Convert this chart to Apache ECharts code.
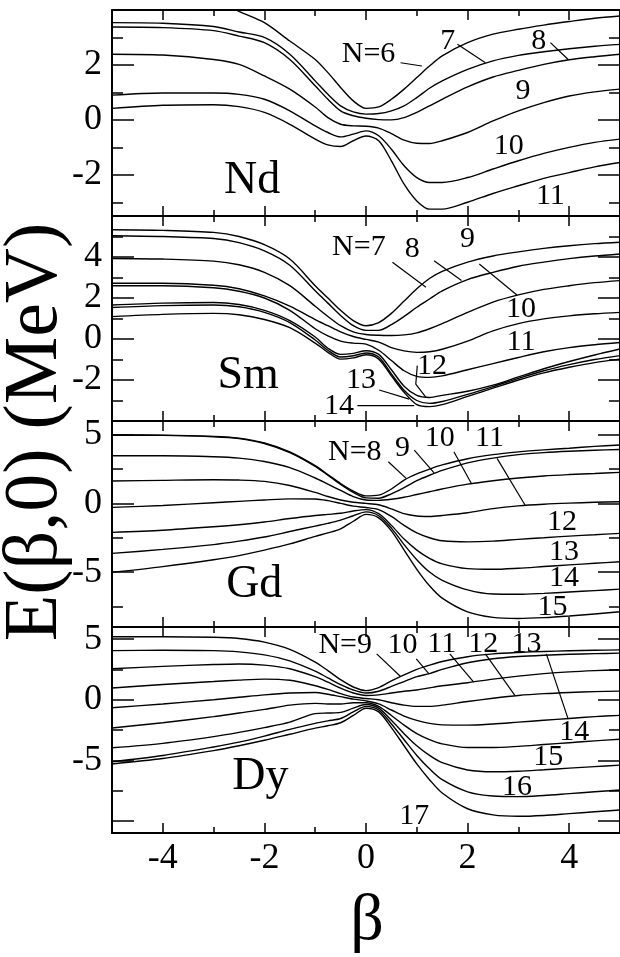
<!DOCTYPE html>
<html>
<head>
<meta charset="utf-8">
<script src="https://cdn.jsdelivr.net/npm/echarts@6/dist/echarts.min.js"></script>
<style>
  html, body { margin: 0; padding: 0; background: #fff; }
  #main { width: 620px; height: 957px; }
</style>
</head>
<body>
<div id="main"></div>
<script>
// deformation grid shared by every curve
var beta = [-5, -4, -3, -2.5, -2, -1.5, -1, -0.75, -0.5, -0.25, 0, 0.25, 0.5, 0.75, 1, 1.25, 1.5, 2, 2.5, 3, 3.5, 4, 4.5, 5];

// Nd, N = 6..11
var ndCurves = [
  [5.0, 4.9, 4.4, 3.95, 3.54, 2.87, 2.2, 1.72, 1.18, 0.69, 0.42, 0.47, 0.75, 1.12, 1.54, 1.96, 2.33, 2.81, 3.12, 3.3, 3.45, 3.58, 3.7, 3.78],
  [3.54, 3.52, 3.4, 3.2, 3.0, 2.39, 1.42, 0.93, 0.51, 0.29, 0.21, 0.23, 0.33, 0.51, 0.81, 1.15, 1.42, 1.84, 2.15, 2.35, 2.48, 2.59, 2.68, 2.75],
  [3.38, 3.36, 3.25, 3.05, 2.81, 2.2, 1.24, 0.75, 0.33, 0.15, 0.06, 0.01, 0.0, 0.08, 0.27, 0.51, 0.75, 1.2, 1.56, 1.8, 2.02, 2.19, 2.3, 2.39],
  [2.39, 2.36, 2.2, 2.02, 1.6, 1.12, 0.47, 0.08, -0.16, -0.22, -0.23, -0.3, -0.5, -0.74, -0.85, -0.86, -0.76, -0.46, -0.04, 0.33, 0.63, 0.87, 1.02, 1.12],
  [0.9, 0.98, 0.98, 0.93, 0.75, 0.33, -0.22, -0.46, -0.62, -0.52, -0.4, -0.58, -1.07, -1.67, -2.1, -2.28, -2.28, -2.1, -1.79, -1.49, -1.22, -1.0, -0.82, -0.7],
  [0.42, 0.53, 0.55, 0.48, 0.27, -0.16, -0.7, -0.91, -0.97, -0.76, -0.59, -0.76, -1.49, -2.34, -2.95, -3.25, -3.25, -3.0, -2.68, -2.4, -2.13, -1.92, -1.71, -1.55]
];
// Sm, N = 7..14
var smCurves = [
  [5.33, 5.3, 5.2, 5.0, 4.6, 3.9, 2.6, 2.0, 1.4, 0.9, 0.65, 0.8, 1.25, 1.85, 2.45, 2.95, 3.3, 3.75, 4.05, 4.25, 4.42, 4.55, 4.65, 4.72],
  [5.04, 5.0, 4.9, 4.7, 4.3, 3.6, 2.35, 1.75, 1.15, 0.65, 0.42, 0.42, 0.7, 1.1, 1.55, 1.95, 2.35, 2.9, 3.25, 3.55, 3.75, 3.92, 4.05, 4.15],
  [3.93, 3.9, 3.8, 3.62, 3.25, 2.6, 1.6, 1.1, 0.65, 0.35, 0.22, 0.18, 0.17, 0.2, 0.3, 0.5, 0.75, 1.3, 1.8, 2.15, 2.42, 2.6, 2.75, 2.85],
  [2.72, 2.72, 2.62, 2.45, 2.1, 1.6, 0.95, 0.65, 0.35, 0.12, -0.02, -0.15, -0.42, -0.58, -0.65, -0.62, -0.5, -0.1, 0.4, 0.75, 0.98, 1.13, 1.23, 1.3],
  [2.6, 2.6, 2.5, 2.33, 2.0, 1.4, 0.5, 0.15, -0.1, -0.2, -0.25, -0.55, -1.05, -1.55, -1.82, -1.87, -1.8, -1.5, -1.2, -0.9, -0.62, -0.42, -0.28, -0.17],
  [1.66, 1.75, 1.78, 1.68, 1.4, 0.9, 0.1, -0.45, -0.75, -0.7, -0.57, -0.75, -1.5, -2.3, -2.75, -2.85, -2.75, -2.55, -2.25, -1.85, -1.45, -1.1, -0.78, -0.49],
  [1.54, 1.63, 1.66, 1.57, 1.3, 0.8, -0.05, -0.55, -0.88, -0.82, -0.68, -0.88, -1.7, -2.5, -3.0, -3.14, -3.05, -2.7, -2.32, -1.92, -1.55, -1.25, -1.0, -0.81],
  [1.09, 1.2, 1.25, 1.18, 0.95, 0.55, -0.2, -0.65, -0.98, -0.92, -0.77, -0.98, -1.8, -2.6, -3.2, -3.3, -3.2, -2.8, -2.4, -2.0, -1.65, -1.38, -1.15, -0.98]
];
// Gd, N = 8..15
var gdCurves = [
  [4.98, 4.97, 4.88, 4.75, 4.4, 3.75, 2.75, 2.1, 1.45, 0.9, 0.55, 0.6, 1.05, 1.7, 2.15, 2.5, 2.8, 3.25, 3.55, 3.75, 3.9, 4.02, 4.15, 4.25],
  [4.96, 4.95, 4.85, 4.72, 4.36, 3.7, 2.7, 2.05, 1.38, 0.8, 0.4, 0.38, 0.7, 1.15, 1.65, 2.05, 2.4, 2.95, 3.3, 3.55, 3.7, 3.8, 3.87, 3.93],
  [3.47, 3.47, 3.4, 3.3, 3.05, 2.6, 1.85, 1.4, 0.95, 0.5, 0.25, 0.22, 0.3, 0.45, 0.65, 0.85, 1.05, 1.4, 1.65, 1.85, 2.0, 2.1, 2.18, 2.26],
  [1.63, 1.68, 1.72, 1.7, 1.6, 1.3, 0.8, 0.5, 0.25, 0.08, 0.0, -0.1, -0.4, -0.75, -0.92, -0.95, -0.88, -0.68, -0.38, -0.18, -0.06, 0.02, 0.08, 0.12],
  [-0.29, -0.15, 0.05, 0.15, 0.25, 0.33, 0.32, 0.2, 0.0, -0.2, -0.3, -0.45, -0.95, -1.6, -2.15, -2.5, -2.72, -2.8, -2.75, -2.62, -2.5, -2.38, -2.28, -2.18],
  [-2.11, -1.95, -1.7, -1.55, -1.35, -1.1, -0.88, -0.8, -0.72, -0.55, -0.45, -0.75, -1.6, -2.6, -3.4, -4.0, -4.4, -4.75, -4.8, -4.72, -4.6, -4.48, -4.36, -4.25],
  [-3.64, -3.35, -3.0, -2.75, -2.45, -2.05, -1.65, -1.45, -1.22, -0.9, -0.62, -0.9, -1.8, -3.0, -4.1, -5.0, -5.6, -6.3, -6.6, -6.62, -6.55, -6.45, -6.35, -6.24],
  [-5.02, -4.6, -4.1, -3.8, -3.4, -2.95, -2.4, -2.15, -1.85, -1.3, -0.8, -1.05, -2.0, -3.4, -4.8, -6.0, -6.9, -7.9, -8.3, -8.38, -8.32, -8.2, -8.05, -7.89]
];
// Dy, N = 9..17
var dyCurves = [
  [5.2, 5.2, 5.15, 5.05, 4.75, 4.15, 3.1, 2.4, 1.65, 1.05, 0.75, 1.0, 1.55, 2.05, 2.5, 2.85, 3.15, 3.55, 3.78, 3.9, 3.98, 4.04, 4.08, 4.11],
  [4.05, 4.08, 4.05, 3.95, 3.7, 3.2, 2.35, 1.8, 1.25, 0.8, 0.55, 0.7, 1.1, 1.5, 1.9, 2.15, 2.5, 3.05, 3.38, 3.56, 3.67, 3.75, 3.8, 3.84],
  [2.55, 2.75, 2.9, 2.95, 2.85, 2.55, 1.9, 1.45, 0.95, 0.55, 0.35, 0.4, 0.55, 0.7, 0.8, 0.98, 1.15, 1.4, 1.7, 1.95, 2.15, 2.3, 2.4, 2.47],
  [0.96, 1.25, 1.5, 1.62, 1.7, 1.6, 1.15, 0.85, 0.5, 0.22, 0.1, 0.0, -0.25, -0.45, -0.55, -0.55, -0.45, -0.15, 0.12, 0.35, 0.5, 0.6, 0.67, 0.71],
  [-0.66, -0.35, 0.0, 0.2, 0.4, 0.55, 0.6, 0.45, 0.25, 0.05, -0.1, -0.35, -0.85, -1.35, -1.7, -1.95, -2.08, -2.1, -2.0, -1.85, -1.7, -1.55, -1.4, -1.29],
  [-2.33, -1.9, -1.4, -1.1, -0.8, -0.45, -0.3, -0.35, -0.35, -0.25, -0.25, -0.55, -1.3, -2.1, -2.8, -3.3, -3.65, -3.95, -3.95, -3.85, -3.7, -3.55, -3.4, -3.26],
  [-3.97, -3.6, -3.05, -2.7, -2.3, -1.85, -1.15, -1.1, -1.05, -0.7, -0.4, -0.7, -1.7, -2.8, -3.8, -4.6, -5.2, -5.8, -5.95, -5.9, -5.78, -5.65, -5.52, -5.4],
  [-5.12, -4.6, -3.9, -3.5, -3.0, -2.45, -1.95, -1.75, -1.55, -1.0, -0.55, -0.85, -2.0, -3.3, -4.6, -5.7, -6.6, -7.6, -7.95, -8.0, -7.9, -7.75, -7.6, -7.45],
  [-5.3, -4.85, -4.2, -3.8, -3.35, -2.85, -2.35, -2.15, -1.9, -1.3, -0.7, -1.0, -2.3, -3.8, -5.3, -6.6, -7.7, -9.0, -9.5, -9.62, -9.55, -9.4, -9.25, -9.1]
];

// y ranges and ticks of each panel
var yRanges = [[-3.5, 4], [-4, 6], [-9, 6], [-11, 6]];
var yMajor = [[-2, 0, 2], [-4, -2, 0, 2, 4, 6], [-5, 0, 5], [-10, -5, 0, 5]];
var yMinor = [[-3, -1, 1, 3], [-3, -1, 1, 3, 5], [-7.5, -2.5, 2.5], [-7.5, -2.5, 2.5]];
var yLabels = [[-2, 0, 2], [-2, 0, 2, 4], [-5, 0, 5], [-5, 0, 5]];
var xMajor = [-4, -2, 0, 2, 4];
var xMinor = [-3, -1, 1, 3];

// text tags [beta, E, text]
var names = [[-2.24, -2.22, 'Nd'], [-2.32, -1.79, 'Sm'], [-2.2, -5.95, 'Gd'], [-2.08, -6.36, 'Dy']];
var ndTags = [[0.05, 2.39, 'N=6'], [1.61, 2.87, '7'], [3.4, 2.87, '8'], [3.09, 1.05, '9'], [2.81, -0.95, '10'], [3.63, -2.76, '11']];
var smTags = [[-0.14, 4.47, 'N=7'], [0.91, 4.39, '8'], [2.0, 4.88, '9'], [3.05, 1.46, '10'], [3.05, -0.16, '11'], [1.3, -1.3, '12'], [-0.1, -2.03, '13'], [-0.53, -3.25, '14']];
var gdTags = [[-0.22, 3.76, 'N=8'], [0.72, 4.0, '9'], [1.45, 4.73, '10'], [2.43, 4.73, '11'], [3.86, -1.33, '12'], [3.9, -3.52, '13'], [3.9, -5.46, '14'], [3.67, -7.52, '15']];
var dyTags = [[-0.41, 4.47, 'N=9'], [0.72, 4.47, '10'], [1.49, 4.6, '11'], [2.31, 4.6, '12'], [3.16, 4.6, '13'], [4.1, -2.66, '14'], [3.59, -4.71, '15'], [2.97, -7.18, '16'], [0.95, -9.64, '17']];

// leader lines from tag to curve
var ndLeaders = [[[0.68, 2.08], [1.1, 1.96]], [[1.8, 2.75], [2.35, 2.08]], [[3.63, 2.81], [3.98, 2.2]]];
var smLeaders = [[[0.52, 3.74], [1.18, 2.52]], [[1.34, 3.82], [1.88, 2.85]], [[2.23, 3.66], [2.97, 2.15]],
  [[1.01, -1.3], [0.98, -2.2], [1.18, -2.85]], [[0.26, -2.49], [0.85, -2.93]], [[-0.17, -3.25], [0.95, -3.25]]];
var gdLeaders = [[[0.44, 3.03], [0.79, 1.82]], [[0.95, 3.88], [1.34, 2.23]], [[1.73, 3.76], [2.08, 1.41]], [[2.58, 3.28], [3.13, -0.12]]];
var dyLeaders = [[[0.21, 3.78], [0.68, 1.92]], [[0.99, 3.37], [1.24, 2.14]], [[1.65, 3.78], [2.12, 1.45]],
  [[2.35, 3.78], [2.93, 0.36]], [[3.55, 3.78], [3.98, -1.6]]];

var panels = [
  { curves: ndCurves, tags: ndTags, leaders: ndLeaders },
  { curves: smCurves, tags: smTags, leaders: smLeaders },
  { curves: gdCurves, tags: gdTags, leaders: gdLeaders },
  { curves: dyCurves, tags: dyTags, leaders: dyLeaders }
];

var FONT = 'Liberation Serif';
var tops = [10, 216, 421, 627];
var heights = [206, 205, 206, 206];

var grids = [], xAxes = [], yAxes = [], series = [];

panels.forEach(function (p, g) {
  grids.push({ left: 112, right: 0, top: tops[g], height: heights[g] });
  var last = g === panels.length - 1;
  var line = { show: true, onZero: false, lineStyle: { color: '#000', width: 2 } };
  var noLine = { show: false, onZero: false };
  function xa(pos, vals, len, showLine, labels) {
    xAxes.push({
      type: 'value', gridIndex: g, min: -5, max: 5, position: pos,
      axisLine: showLine ? line : noLine,
      axisTick: { show: true, inside: true, length: len, customValues: vals, lineStyle: { color: '#000', width: 1.5 } },
      axisLabel: labels ? { show: true, customValues: xMajor, fontFamily: FONT, fontSize: 36, color: '#000', margin: 8 } : { show: false },
      splitLine: { show: false }
    });
  }
  function ya(pos, vals, len, showLine, labels) {
    yAxes.push({
      type: 'value', gridIndex: g, min: yRanges[g][0], max: yRanges[g][1], position: pos,
      axisLine: showLine ? line : noLine,
      axisTick: { show: true, inside: true, length: len, customValues: vals, lineStyle: { color: '#000', width: 1.5 } },
      axisLabel: labels ? { show: true, customValues: yLabels[g], fontFamily: FONT, fontSize: 36, color: '#000', margin: 10 } : { show: false },
      splitLine: { show: false }
    });
  }
  xa('bottom', xMajor, 10, true, last);
  xa('bottom', xMinor, 6, false, false);
  xa('top', xMajor, 10, true, false);
  xa('top', xMinor, 6, false, false);
  ya('left', yMajor[g], 22, true, true);
  ya('left', yMinor[g], 11, false, false);
  ya('right', yMajor[g], 22, true, false);
  ya('right', yMinor[g], 11, false, false);

  var xi = 4 * g, yi = 4 * g;
  p.curves.forEach(function (vals) {
    series.push({
      type: 'line', xAxisIndex: xi, yAxisIndex: yi, smooth: 0.3, symbol: 'none',
      lineStyle: { color: '#000', width: 1.4 }, animation: false,
      data: beta.map(function (b, i) { return [b, vals[i]]; })
    });
  });
  p.leaders.forEach(function (pts) {
    series.push({
      type: 'line', xAxisIndex: xi, yAxisIndex: yi, symbol: 'none',
      lineStyle: { color: '#000', width: 1.2 }, animation: false, data: pts
    });
  });
  series.push({
    type: 'scatter', xAxisIndex: xi, yAxisIndex: yi, symbolSize: 1,
    itemStyle: { color: 'transparent', opacity: 1 }, animation: false, clip: false,
    label: { show: true, position: 'inside', formatter: function (d) { return d.data[2]; },
      fontFamily: FONT, fontSize: 30, color: '#000', opacity: 1 },
    data: p.tags
  });
  series.push({
    type: 'scatter', xAxisIndex: xi, yAxisIndex: yi, symbolSize: 1,
    itemStyle: { color: 'transparent', opacity: 1 }, animation: false,
    label: { show: true, position: 'inside', formatter: function (d) { return d.data[2]; },
      fontFamily: FONT, fontSize: 46, color: '#000', opacity: 1 },
    data: [names[g]]
  });
});

var chart = echarts.init(document.getElementById('main'));
chart.setOption({
  backgroundColor: '#fff',
  animation: false,
  grid: grids,
  xAxis: xAxes,
  yAxis: yAxes,
  series: series,
  graphic: [
    { type: 'text', x: 36, y: 432, rotation: Math.PI / 2, z: -1,
      style: { text: 'E(β,0) (MeV)', fontFamily: FONT, fontSize: 76, fill: '#000', align: 'center', verticalAlign: 'middle' } },
    { type: 'text', x: 367, y: 922,
      style: { text: 'β', fontFamily: FONT, fontSize: 66, fill: '#000', align: 'center', verticalAlign: 'middle' } }
  ]
});
</script>
</body>
</html>
